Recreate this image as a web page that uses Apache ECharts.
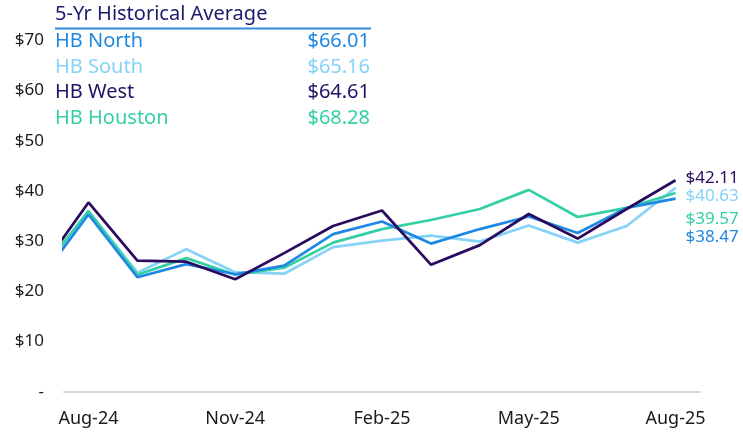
<!DOCTYPE html>
<html>
<head>
<meta charset="utf-8">
<script src="https://cdn.jsdelivr.net/npm/echarts@6/dist/echarts.min.js"></script>
<style>
  html, body { margin: 0; padding: 0; background: #fff; }
  #main { width: 743px; height: 433px; }
</style>
</head>
<body>
<div id="main"></div>
<script>
// months, first one (Jul-24) sits half outside the plot and gets clipped
var months = ['Jul-24', 'Aug-24', 'Sep-24', 'Oct-24', 'Nov-24', 'Dec-24', 'Jan-25',
  'Feb-25', 'Mar-25', 'Apr-25', 'May-25', 'Jun-25', 'Jul-25', 'Aug-25'];
var monthTicks = [0, 3, 6, 9, 12];

var hbNorth   = [22.2, 35.3, 22.8, 25.4, 23.4, 25.1, 31.4, 33.9, 29.5, 32.4, 34.9, 31.6, 36.6, 38.47];
var hbSouth   = [23.0, 36.0, 23.7, 28.4, 23.8, 23.5, 28.8, 30.1, 31.1, 29.9, 33.1, 29.7, 33.0, 40.63];
var hbWest    = [24.0, 37.7, 26.1, 25.9, 22.4, 27.6, 33.0, 36.1, 25.3, 29.2, 35.4, 30.5, 36.4, 42.11];
var hbHouston = [23.6, 36.0, 23.3, 26.6, 23.3, 24.7, 29.7, 32.4, 34.2, 36.4, 40.2, 34.8, 36.6, 39.57];

// 5-yr historical average box
var avgNames  = ['HB North', 'HB South', 'HB West', 'HB Houston'];
var avgValues = [66.01, 65.16, 64.61, 68.28];

var yTicks = [0, 10, 20, 30, 40, 50, 60, 70];

var colors = {
  'HB North': '#1f88e3',
  'HB South': '#86d3f7',
  'HB West': '#2b0b5e',
  'HB Houston': '#35cfa6'
};
var FONT = '"Noto Sans", sans-serif';

// label nudges so the end values don't collide
var endOffset = {
  'HB North': 39,
  'HB South': 8,
  'HB West': -2,
  'HB Houston': 26
};

function makeSeries(name, vals) {
  var data = vals.map(function (v, i) { return [i - 1, v]; });
  return {
    name: name,
    type: 'line',
    data: data,
    symbol: 'none',
    clip: true,
    lineStyle: { width: 2.75, color: colors[name] },
    itemStyle: { color: colors[name] },
    endLabel: {
      show: true,
      distance: 10,
      offset: [0, endOffset[name]],
      formatter: function (p) { return '$' + p.value[1].toFixed(2); },
      color: colors[name],
      fontSize: 17,
      fontFamily: FONT
    },
    animation: false
  };
}

// legend-ish table in the top left
var graphics = [{
  type: 'text', left: 55, top: 4,
  style: { text: '5-Yr Historical Average', fill: '#1b1a6b', font: '20px ' + FONT }
}, {
  type: 'line', shape: { x1: 55, y1: 28.5, x2: 371, y2: 28.5 },
  style: { stroke: '#2e8be0', lineWidth: 2 }
}];
var rowY = [41.5, 67.5, 92.5, 118];
avgNames.forEach(function (n, i) {
  var c = n === 'HB West' ? '#1e1466' : colors[n];
  graphics.push({
    type: 'text', x: 55, y: rowY[i],
    style: { text: n, fill: c, font: '20px ' + FONT, textVerticalAlign: 'middle' }
  });
  graphics.push({
    type: 'text', x: 370, y: rowY[i],
    style: { text: '$' + avgValues[i].toFixed(2), fill: c, font: '20px ' + FONT,
      textAlign: 'right', textVerticalAlign: 'middle' }
  });
});

var myChart = echarts.init(document.getElementById('main'));
myChart.setOption({
  animation: false,
  grid: { left: 64, right: 43, top: 40.3, bottom: 41.3, containLabel: false },
  xAxis: {
    type: 'value',
    min: -0.5,
    max: 12.5,
    axisLine: { show: true, onZero: false, lineStyle: { color: '#d9d9d9', width: 2 } },
    axisTick: { show: false },
    splitLine: { show: false },
    axisLabel: {
      customValues: monthTicks,
      formatter: function (v) { return months[v + 1]; },
      color: '#1a1a1a', fontSize: 18, fontFamily: FONT, margin: 18
    }
  },
  yAxis: {
    type: 'value',
    min: 0,
    max: 70,
    interval: 10,
    axisLine: { show: false },
    axisTick: { show: false },
    splitLine: { show: false },
    axisLabel: {
      customValues: yTicks,
      formatter: function (v) { return v === 0 ? '-' : '$' + v; },
      color: '#1a1a1a', fontSize: 17, fontFamily: FONT, margin: 20
    }
  },
  graphic: graphics,
  series: [
    makeSeries('HB South', hbSouth),
    makeSeries('HB Houston', hbHouston),
    makeSeries('HB North', hbNorth),
    makeSeries('HB West', hbWest)
  ]
});
</script>
</body>
</html>
